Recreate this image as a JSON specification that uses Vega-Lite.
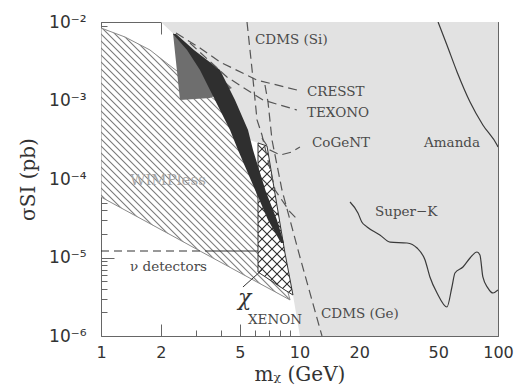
{
  "$schema": "https://vega.github.io/schema/vega-lite/v6.json",
  "width": 397,
  "height": 314,
  "autosize": {"type": "none"},
  "padding": {"left": 101, "top": 22, "right": 18, "bottom": 51},
  "background": "white",
  "config": {"view": {"stroke": null}},
  "datasets": {
    "xenon": [{"m":2.005,"s":0.01},{"m":2.5,"s":5.9e-3},{"m":3.34,"s":3.09e-3},{"m":4.215,"s":1.576e-3},{"m":4.9,"s":7.57e-4},{"m":5.63,"s":3.14e-4},{"m":6.18,"s":2.88e-4},{"m":6.86,"s":2.63e-4},{"m":8.45,"s":1.14e-5},{"m":9.27,"s":3.33e-6},{"m":10.05,"s":1e-6},{"m":100,"s":1e-6}],
    "wimpless": [{"m":1,"up":8.39e-3,"lo":5.9e-5},{"m":1.321,"up":6.44e-3,"lo":4.02e-5},{"m":1.765,"up":4.4e-3,"lo":2.7e-5},{"m":2.305,"up":2.59e-3,"lo":1.87e-5},{"m":3.152,"up":1.44e-3,"lo":1.21e-5},{"m":4.215,"up":8.02e-4,"lo":8.12e-6},{"m":4.9,"up":4.21e-4,"lo":6.59e-6},{"m":6.18,"up":5.9e-5,"lo":4.79e-6},{"m":7.53,"up":1.44e-5,"lo":3.66e-6},{"m":8.96,"up":2.88e-6,"lo":2.88e-6}],
    "box": [{"m":2.305,"up":7.24e-3,"lo":7.24e-3},{"m":2.5,"up":5.98e-3,"lo":1.014e-3},{"m":3.54,"up":2.64e-3,"lo":1.076e-3},{"m":4.57,"up":1.44e-3,"lo":1.44e-3}],
    "band": [{"s":1.53e-5,"m1":8.07,"m2":8.35},{"s":3.01e-5,"m1":6.94,"m2":7.7},{"s":6.82e-5,"m1":6.04,"m2":6.78},{"s":2.34e-4,"m1":4.9,"m2":5.833},{"s":4.21e-4,"m1":4.467,"m2":5.503},{"s":1.014e-3,"m1":3.752,"m2":4.732},{"s":2.45e-3,"m1":3.152,"m2":3.977},{"s":4.4e-3,"m1":2.713,"m2":2.941},{"s":7.03e-3,"m1":2.305,"m2":2.387}],
    "cross": [{"m":6.18,"up":2.88e-4,"lo":6.53e-6},{"m":6.86,"up":2.63e-4,"lo":5.48e-6},{"m":8.45,"up":1.14e-5,"lo":3.85e-6},{"m":9.27,"up":3.33e-6,"lo":3.33e-6}],
    "dashed": [
      {"g":"CRESST","m":2.387,"s":7.24e-3},{"g":"CRESST","m":3.152,"s":4.67e-3},{"g":"CRESST","m":3.977,"s":3.09e-3},{"g":"CRESST","m":6.11,"s":1.82e-3},{"g":"CRESST","m":9.71,"s":1.36e-3},
      {"g":"TEXONO","m":2.806,"s":5.4e-3},{"g":"TEXONO","m":4.31,"s":1.99e-3},{"g":"TEXONO","m":6.55,"s":1.014e-3},{"g":"TEXONO","m":9.71,"s":7.57e-4},
      {"g":"CDMSSi","m":5.44,"s":1e-2},{"g":"CDMSSi","m":5.77,"s":2.45e-3},{"g":"CDMSSi","m":6.11,"s":5.65e-4},{"g":"CDMSSi","m":6.47,"s":3.64e-4},{"g":"CDMSSi","m":7.53,"s":7.24e-5},{"g":"CDMSSi","m":8.96,"s":3.8e-5},{"g":"CDMSSi","m":9.83,"s":3.01e-5},
      {"g":"CDMSGe","m":6.7,"s":1.576e-3},{"g":"CDMSGe","m":6.94,"s":9.57e-4},{"g":"CDMSGe","m":7.27,"s":3.14e-4},{"g":"CDMSGe","m":8.16,"s":7.24e-5},{"g":"CDMSGe","m":10.05,"s":1.014e-5},{"g":"CDMSGe","m":12.98,"s":1e-6},
      {"g":"CoGeNT","m":6.47,"s":3.33e-4},{"g":"CoGeNT","m":7.1,"s":2.34e-4},{"g":"CoGeNT","m":7.98,"s":2.02e-4},{"g":"CoGeNT","m":9.17,"s":2.21e-4},{"g":"CoGeNT","m":10.05,"s":2.56e-4}
    ],
    "solid": [
      {"g":"Amanda","m":49.9,"s":1e-2},{"g":"Amanda","m":55.3,"s":5.09e-3},{"g":"Amanda","m":62.2,"s":2.31e-3},{"g":"Amanda","m":72.3,"s":9.57e-4},{"g":"Amanda","m":83.9,"s":4.88e-4},{"g":"Amanda","m":98.9,"s":2.71e-4},{"g":"Amanda","m":100,"s":2.56e-4},
      {"g":"SuperK","m":17.97,"s":5.09e-5},{"g":"SuperK","m":19.7,"s":3.69e-5},{"g":"SuperK","m":20.6,"s":2.83e-5},{"g":"SuperK","m":21.9,"s":2.45e-5},{"g":"SuperK","m":25.4,"s":1.94e-5},{"g":"SuperK","m":28.6,"s":1.57e-5},{"g":"SuperK","m":34.8,"s":1.53e-5},{"g":"SuperK","m":39.1,"s":1.32e-5},{"g":"SuperK","m":42.9,"s":9.29e-6},{"g":"SuperK","m":45.4,"s":5.65e-6},{"g":"SuperK","m":49.3,"s":3.53e-6},{"g":"SuperK","m":55.3,"s":2.34e-6},{"g":"SuperK","m":58.6,"s":4.21e-6},{"g":"SuperK","m":60.7,"s":6.35e-6},{"g":"SuperK","m":66.6,"s":7.57e-6},{"g":"SuperK","m":72.3,"s":9.86e-6},{"g":"SuperK","m":78.4,"s":1.175e-5},{"g":"SuperK","m":81.1,"s":1.077e-5},{"g":"SuperK","m":83.9,"s":5.65e-6},{"g":"SuperK","m":89.0,"s":4.08e-6},{"g":"SuperK","m":94.4,"s":3.53e-6},{"g":"SuperK","m":100,"s":3.85e-6}
    ],
    "labels": [
      {"t":"CDMS (Si)","m":5.97,"s":5.9e-3},
      {"t":"CRESST","m":10.91,"s":1.28e-3},
      {"t":"TEXONO","m":10.91,"s":6.93e-4},
      {"t":"CoGeNT","m":11.56,"s":2.88e-4},
      {"t":"Amanda","m":42.4,"s":2.88e-4},
      {"t":"Super−K","m":24.0,"s":3.8e-5},
      {"t":"CDMS (Ge)","m":12.83,"s":1.905e-6},
      {"t":"XENON","m":5.5,"s":1.6e-6},
      {"t":"ν detectors","m":1.4,"s":7.57e-6}
    ],
    "host": [{"m":1,"s":0.01}]
  },
  "resolve": {"axis": {"x": "independent", "y": "independent"}},
  "layer": [
    {
      "data": {"name": "xenon"},
      "mark": {"type": "area", "fill": "#e2e2e2", "clip": true},
      "encoding": {
        "x": {"field": "m", "type": "quantitative", "scale": {"type": "log", "domain": [1, 100], "nice": false}, "axis": null},
        "y": {"field": "s", "type": "quantitative", "scale": {"type": "log", "domain": [1e-6, 1e-2], "nice": false}, "axis": null},
        "y2": {"datum": 0.01}
      }
    },
    {
      "data": {"name": "wimpless"},
      "mark": {"type": "area", "clip": true, "stroke": "#8a8a8a", "strokeWidth": 1,
        "fill": {"gradient": "linear", "x1": 0, "y1": 1, "x2": 0.603, "y2": 0.132, "stops": [
          {"offset":0,"color":"#7a7a7a"},{"offset":0.004,"color":"#ffffff"},{"offset":0.016,"color":"#ffffff"},
          {"offset":0.02,"color":"#7a7a7a"},{"offset":0.024,"color":"#ffffff"},{"offset":0.036,"color":"#ffffff"},
          {"offset":0.04,"color":"#7a7a7a"},{"offset":0.044,"color":"#ffffff"},{"offset":0.056,"color":"#ffffff"},
          {"offset":0.06,"color":"#7a7a7a"},{"offset":0.064,"color":"#ffffff"},{"offset":0.076,"color":"#ffffff"},
          {"offset":0.08,"color":"#7a7a7a"},{"offset":0.084,"color":"#ffffff"},{"offset":0.096,"color":"#ffffff"},
          {"offset":0.1,"color":"#7a7a7a"},{"offset":0.104,"color":"#ffffff"},{"offset":0.116,"color":"#ffffff"},
          {"offset":0.12,"color":"#7a7a7a"},{"offset":0.124,"color":"#ffffff"},{"offset":0.136,"color":"#ffffff"},
          {"offset":0.14,"color":"#7a7a7a"},{"offset":0.144,"color":"#ffffff"},{"offset":0.156,"color":"#ffffff"},
          {"offset":0.16,"color":"#7a7a7a"},{"offset":0.164,"color":"#ffffff"},{"offset":0.176,"color":"#ffffff"},
          {"offset":0.18,"color":"#7a7a7a"},{"offset":0.184,"color":"#ffffff"},{"offset":0.196,"color":"#ffffff"},
          {"offset":0.2,"color":"#7a7a7a"},{"offset":0.204,"color":"#ffffff"},{"offset":0.216,"color":"#ffffff"},
          {"offset":0.22,"color":"#7a7a7a"},{"offset":0.224,"color":"#ffffff"},{"offset":0.236,"color":"#ffffff"},
          {"offset":0.24,"color":"#7a7a7a"},{"offset":0.244,"color":"#ffffff"},{"offset":0.256,"color":"#ffffff"},
          {"offset":0.26,"color":"#7a7a7a"},{"offset":0.264,"color":"#ffffff"},{"offset":0.276,"color":"#ffffff"},
          {"offset":0.28,"color":"#7a7a7a"},{"offset":0.284,"color":"#ffffff"},{"offset":0.296,"color":"#ffffff"},
          {"offset":0.3,"color":"#7a7a7a"},{"offset":0.304,"color":"#ffffff"},{"offset":0.316,"color":"#ffffff"},
          {"offset":0.32,"color":"#7a7a7a"},{"offset":0.324,"color":"#ffffff"},{"offset":0.336,"color":"#ffffff"},
          {"offset":0.34,"color":"#7a7a7a"},{"offset":0.344,"color":"#ffffff"},{"offset":0.356,"color":"#ffffff"},
          {"offset":0.36,"color":"#7a7a7a"},{"offset":0.364,"color":"#ffffff"},{"offset":0.376,"color":"#ffffff"},
          {"offset":0.38,"color":"#7a7a7a"},{"offset":0.384,"color":"#ffffff"},{"offset":0.396,"color":"#ffffff"},
          {"offset":0.4,"color":"#7a7a7a"},{"offset":0.404,"color":"#ffffff"},{"offset":0.416,"color":"#ffffff"},
          {"offset":0.42,"color":"#7a7a7a"},{"offset":0.424,"color":"#ffffff"},{"offset":0.436,"color":"#ffffff"},
          {"offset":0.44,"color":"#7a7a7a"},{"offset":0.444,"color":"#ffffff"},{"offset":0.456,"color":"#ffffff"},
          {"offset":0.46,"color":"#7a7a7a"},{"offset":0.464,"color":"#ffffff"},{"offset":0.476,"color":"#ffffff"},
          {"offset":0.48,"color":"#7a7a7a"},{"offset":0.484,"color":"#ffffff"},{"offset":0.496,"color":"#ffffff"},
          {"offset":0.5,"color":"#7a7a7a"},{"offset":0.504,"color":"#ffffff"},{"offset":0.516,"color":"#ffffff"},
          {"offset":0.52,"color":"#7a7a7a"},{"offset":0.524,"color":"#ffffff"},{"offset":0.536,"color":"#ffffff"},
          {"offset":0.54,"color":"#7a7a7a"},{"offset":0.544,"color":"#ffffff"},{"offset":0.556,"color":"#ffffff"},
          {"offset":0.56,"color":"#7a7a7a"},{"offset":0.564,"color":"#ffffff"},{"offset":0.576,"color":"#ffffff"},
          {"offset":0.58,"color":"#7a7a7a"},{"offset":0.584,"color":"#ffffff"},{"offset":0.596,"color":"#ffffff"},
          {"offset":0.6,"color":"#7a7a7a"},{"offset":0.604,"color":"#ffffff"},{"offset":0.616,"color":"#ffffff"},
          {"offset":0.62,"color":"#7a7a7a"},{"offset":0.624,"color":"#ffffff"},{"offset":0.636,"color":"#ffffff"},
          {"offset":0.64,"color":"#7a7a7a"},{"offset":0.644,"color":"#ffffff"},{"offset":0.656,"color":"#ffffff"},
          {"offset":0.66,"color":"#7a7a7a"},{"offset":0.664,"color":"#ffffff"},{"offset":0.676,"color":"#ffffff"},
          {"offset":0.68,"color":"#7a7a7a"},{"offset":0.684,"color":"#ffffff"},{"offset":0.696,"color":"#ffffff"},
          {"offset":0.7,"color":"#7a7a7a"},{"offset":0.704,"color":"#ffffff"},{"offset":0.716,"color":"#ffffff"},
          {"offset":0.72,"color":"#7a7a7a"},{"offset":0.724,"color":"#ffffff"},{"offset":0.736,"color":"#ffffff"},
          {"offset":0.74,"color":"#7a7a7a"},{"offset":0.744,"color":"#ffffff"},{"offset":0.756,"color":"#ffffff"},
          {"offset":0.76,"color":"#7a7a7a"},{"offset":0.764,"color":"#ffffff"},{"offset":0.776,"color":"#ffffff"},
          {"offset":0.78,"color":"#7a7a7a"},{"offset":0.784,"color":"#ffffff"},{"offset":0.796,"color":"#ffffff"},
          {"offset":0.8,"color":"#7a7a7a"},{"offset":0.804,"color":"#ffffff"},{"offset":0.816,"color":"#ffffff"},
          {"offset":0.82,"color":"#7a7a7a"},{"offset":0.824,"color":"#ffffff"},{"offset":0.836,"color":"#ffffff"},
          {"offset":0.84,"color":"#7a7a7a"},{"offset":0.844,"color":"#ffffff"},{"offset":0.856,"color":"#ffffff"},
          {"offset":0.86,"color":"#7a7a7a"},{"offset":0.864,"color":"#ffffff"},{"offset":0.876,"color":"#ffffff"},
          {"offset":0.88,"color":"#7a7a7a"},{"offset":0.884,"color":"#ffffff"},{"offset":0.896,"color":"#ffffff"},
          {"offset":0.9,"color":"#7a7a7a"},{"offset":0.904,"color":"#ffffff"},{"offset":0.916,"color":"#ffffff"},
          {"offset":0.92,"color":"#7a7a7a"},{"offset":0.924,"color":"#ffffff"},{"offset":0.936,"color":"#ffffff"},
          {"offset":0.94,"color":"#7a7a7a"},{"offset":0.944,"color":"#ffffff"},{"offset":0.956,"color":"#ffffff"},
          {"offset":0.96,"color":"#7a7a7a"},{"offset":0.964,"color":"#ffffff"},{"offset":0.976,"color":"#ffffff"},
          {"offset":0.98,"color":"#7a7a7a"},{"offset":0.984,"color":"#ffffff"},{"offset":1,"color":"#ffffff"}
        ]}},
      "encoding": {
        "x": {"field": "m", "type": "quantitative", "scale": {"type": "log", "domain": [1, 100], "nice": false}, "axis": null},
        "y": {"field": "up", "type": "quantitative", "scale": {"type": "log", "domain": [1e-6, 1e-2], "nice": false}, "axis": null},
        "y2": {"field": "lo"}
      }
    },
    {
      "data": {"name": "cross"},
      "mark": {"type": "area", "clip": true,
        "fill": {"gradient": "linear", "x1": 0, "y1": 1, "x2": 0.288, "y2": -0.25, "stops": [
          {"offset":0,"color":"#333333"},{"offset":0.007,"color":"#ffffff"},{"offset":0.043,"color":"#ffffff"},
          {"offset":0.05,"color":"#333333"},{"offset":0.057,"color":"#ffffff"},{"offset":0.093,"color":"#ffffff"},
          {"offset":0.1,"color":"#333333"},{"offset":0.107,"color":"#ffffff"},{"offset":0.143,"color":"#ffffff"},
          {"offset":0.15,"color":"#333333"},{"offset":0.157,"color":"#ffffff"},{"offset":0.193,"color":"#ffffff"},
          {"offset":0.2,"color":"#333333"},{"offset":0.207,"color":"#ffffff"},{"offset":0.243,"color":"#ffffff"},
          {"offset":0.25,"color":"#333333"},{"offset":0.257,"color":"#ffffff"},{"offset":0.293,"color":"#ffffff"},
          {"offset":0.3,"color":"#333333"},{"offset":0.307,"color":"#ffffff"},{"offset":0.343,"color":"#ffffff"},
          {"offset":0.35,"color":"#333333"},{"offset":0.357,"color":"#ffffff"},{"offset":0.393,"color":"#ffffff"},
          {"offset":0.4,"color":"#333333"},{"offset":0.407,"color":"#ffffff"},{"offset":0.443,"color":"#ffffff"},
          {"offset":0.45,"color":"#333333"},{"offset":0.457,"color":"#ffffff"},{"offset":0.493,"color":"#ffffff"},
          {"offset":0.5,"color":"#333333"},{"offset":0.507,"color":"#ffffff"},{"offset":0.543,"color":"#ffffff"},
          {"offset":0.55,"color":"#333333"},{"offset":0.557,"color":"#ffffff"},{"offset":0.593,"color":"#ffffff"},
          {"offset":0.6,"color":"#333333"},{"offset":0.607,"color":"#ffffff"},{"offset":0.643,"color":"#ffffff"},
          {"offset":0.65,"color":"#333333"},{"offset":0.657,"color":"#ffffff"},{"offset":0.693,"color":"#ffffff"},
          {"offset":0.7,"color":"#333333"},{"offset":0.707,"color":"#ffffff"},{"offset":0.743,"color":"#ffffff"},
          {"offset":0.75,"color":"#333333"},{"offset":0.757,"color":"#ffffff"},{"offset":0.793,"color":"#ffffff"},
          {"offset":0.8,"color":"#333333"},{"offset":0.807,"color":"#ffffff"},{"offset":0.843,"color":"#ffffff"},
          {"offset":0.85,"color":"#333333"},{"offset":0.857,"color":"#ffffff"},{"offset":0.893,"color":"#ffffff"},
          {"offset":0.9,"color":"#333333"},{"offset":0.907,"color":"#ffffff"},{"offset":0.943,"color":"#ffffff"},
          {"offset":0.95,"color":"#333333"},{"offset":0.957,"color":"#ffffff"},{"offset":1,"color":"#ffffff"}
        ]}},
      "encoding": {
        "x": {"field": "m", "type": "quantitative", "scale": {"type": "log", "domain": [1, 100], "nice": false}, "axis": null},
        "y": {"field": "up", "type": "quantitative", "scale": {"type": "log", "domain": [1e-6, 1e-2], "nice": false}, "axis": null},
        "y2": {"field": "lo"}
      }
    },
    {
      "data": {"name": "cross"},
      "mark": {"type": "area", "clip": true, "stroke": "#333333", "strokeWidth": 1,
        "fill": {"gradient": "linear", "x1": 0, "y1": 0, "x2": 0.288, "y2": 1.25, "stops": [
          {"offset":0,"color":"rgba(51,51,51,1)"},{"offset":0.007,"color":"rgba(51,51,51,0)"},{"offset":0.043,"color":"rgba(51,51,51,0)"},
          {"offset":0.05,"color":"rgba(51,51,51,1)"},{"offset":0.057,"color":"rgba(51,51,51,0)"},{"offset":0.093,"color":"rgba(51,51,51,0)"},
          {"offset":0.1,"color":"rgba(51,51,51,1)"},{"offset":0.107,"color":"rgba(51,51,51,0)"},{"offset":0.143,"color":"rgba(51,51,51,0)"},
          {"offset":0.15,"color":"rgba(51,51,51,1)"},{"offset":0.157,"color":"rgba(51,51,51,0)"},{"offset":0.193,"color":"rgba(51,51,51,0)"},
          {"offset":0.2,"color":"rgba(51,51,51,1)"},{"offset":0.207,"color":"rgba(51,51,51,0)"},{"offset":0.243,"color":"rgba(51,51,51,0)"},
          {"offset":0.25,"color":"rgba(51,51,51,1)"},{"offset":0.257,"color":"rgba(51,51,51,0)"},{"offset":0.293,"color":"rgba(51,51,51,0)"},
          {"offset":0.3,"color":"rgba(51,51,51,1)"},{"offset":0.307,"color":"rgba(51,51,51,0)"},{"offset":0.343,"color":"rgba(51,51,51,0)"},
          {"offset":0.35,"color":"rgba(51,51,51,1)"},{"offset":0.357,"color":"rgba(51,51,51,0)"},{"offset":0.393,"color":"rgba(51,51,51,0)"},
          {"offset":0.4,"color":"rgba(51,51,51,1)"},{"offset":0.407,"color":"rgba(51,51,51,0)"},{"offset":0.443,"color":"rgba(51,51,51,0)"},
          {"offset":0.45,"color":"rgba(51,51,51,1)"},{"offset":0.457,"color":"rgba(51,51,51,0)"},{"offset":0.493,"color":"rgba(51,51,51,0)"},
          {"offset":0.5,"color":"rgba(51,51,51,1)"},{"offset":0.507,"color":"rgba(51,51,51,0)"},{"offset":0.543,"color":"rgba(51,51,51,0)"},
          {"offset":0.55,"color":"rgba(51,51,51,1)"},{"offset":0.557,"color":"rgba(51,51,51,0)"},{"offset":0.593,"color":"rgba(51,51,51,0)"},
          {"offset":0.6,"color":"rgba(51,51,51,1)"},{"offset":0.607,"color":"rgba(51,51,51,0)"},{"offset":0.643,"color":"rgba(51,51,51,0)"},
          {"offset":0.65,"color":"rgba(51,51,51,1)"},{"offset":0.657,"color":"rgba(51,51,51,0)"},{"offset":0.693,"color":"rgba(51,51,51,0)"},
          {"offset":0.7,"color":"rgba(51,51,51,1)"},{"offset":0.707,"color":"rgba(51,51,51,0)"},{"offset":0.743,"color":"rgba(51,51,51,0)"},
          {"offset":0.75,"color":"rgba(51,51,51,1)"},{"offset":0.757,"color":"rgba(51,51,51,0)"},{"offset":0.793,"color":"rgba(51,51,51,0)"},
          {"offset":0.8,"color":"rgba(51,51,51,1)"},{"offset":0.807,"color":"rgba(51,51,51,0)"},{"offset":0.843,"color":"rgba(51,51,51,0)"},
          {"offset":0.85,"color":"rgba(51,51,51,1)"},{"offset":0.857,"color":"rgba(51,51,51,0)"},{"offset":0.893,"color":"rgba(51,51,51,0)"},
          {"offset":0.9,"color":"rgba(51,51,51,1)"},{"offset":0.907,"color":"rgba(51,51,51,0)"},{"offset":0.943,"color":"rgba(51,51,51,0)"},
          {"offset":0.95,"color":"rgba(51,51,51,1)"},{"offset":0.957,"color":"rgba(51,51,51,0)"},{"offset":1,"color":"rgba(51,51,51,0)"}
        ]}},
      "encoding": {
        "x": {"field": "m", "type": "quantitative", "scale": {"type": "log", "domain": [1, 100], "nice": false}, "axis": null},
        "y": {"field": "up", "type": "quantitative", "scale": {"type": "log", "domain": [1e-6, 1e-2], "nice": false}, "axis": null},
        "y2": {"field": "lo"}
      }
    },
    {
      "data": {"name": "box"},
      "mark": {"type": "area", "fill": "#6e6e6e", "clip": true},
      "encoding": {
        "x": {"field": "m", "type": "quantitative", "scale": {"type": "log", "domain": [1, 100], "nice": false}, "axis": null},
        "y": {"field": "up", "type": "quantitative", "scale": {"type": "log", "domain": [1e-6, 1e-2], "nice": false}, "axis": null},
        "y2": {"field": "lo"}
      }
    },
    {
      "data": {"name": "band"},
      "mark": {"type": "area", "orient": "horizontal", "fill": "#2f2f2f", "clip": true},
      "encoding": {
        "y": {"field": "s", "type": "quantitative", "scale": {"type": "log", "domain": [1e-6, 1e-2], "nice": false}, "axis": null},
        "x": {"field": "m1", "type": "quantitative", "scale": {"type": "log", "domain": [1, 100], "nice": false}, "axis": null},
        "x2": {"field": "m2"}
      }
    },
    {
      "data": {"name": "dashed"},
      "mark": {"type": "line", "stroke": "#555555", "strokeWidth": 1.2, "strokeDash": [9, 5], "clip": true},
      "encoding": {
        "x": {"field": "m", "type": "quantitative", "scale": {"type": "log", "domain": [1, 100], "nice": false}, "axis": null},
        "y": {"field": "s", "type": "quantitative", "scale": {"type": "log", "domain": [1e-6, 1e-2], "nice": false}, "axis": null},
        "detail": {"field": "g"}
      }
    },
    {
      "data": {"name": "solid"},
      "mark": {"type": "line", "stroke": "#3a3a3a", "strokeWidth": 1.2, "interpolate": "monotone", "clip": true},
      "encoding": {
        "x": {"field": "m", "type": "quantitative", "scale": {"type": "log", "domain": [1, 100], "nice": false}, "axis": null},
        "y": {"field": "s", "type": "quantitative", "scale": {"type": "log", "domain": [1e-6, 1e-2], "nice": false}, "axis": null},
        "detail": {"field": "g"}
      }
    },
    {
      "data": {"values": [{"m1": 1, "m2": 3.34, "s": 1.21e-5}]},
      "mark": {"type": "rule", "stroke": "#333333", "strokeWidth": 1, "strokeDash": [8, 5]},
      "encoding": {
        "x": {"field": "m1", "type": "quantitative", "scale": {"type": "log", "domain": [1, 100], "nice": false}, "axis": null},
        "x2": {"field": "m2"},
        "y": {"field": "s", "type": "quantitative", "scale": {"type": "log", "domain": [1e-6, 1e-2], "nice": false}, "axis": null}
      }
    },
    {
      "data": {"values": [{"m1": 3.34, "m2": 6.18, "s": 1.21e-5}]},
      "mark": {"type": "rule", "stroke": "#333333", "strokeWidth": 1},
      "encoding": {
        "x": {"field": "m1", "type": "quantitative", "scale": {"type": "log", "domain": [1, 100], "nice": false}, "axis": null},
        "x2": {"field": "m2"},
        "y": {"field": "s", "type": "quantitative", "scale": {"type": "log", "domain": [1e-6, 1e-2], "nice": false}, "axis": null}
      }
    },
    {
      "data": {"values": [{"m1": 5.19, "s1": 4.21e-6, "m2": 6.47, "s2": 6.93e-6}]},
      "mark": {"type": "rule", "stroke": "#333333", "strokeWidth": 1},
      "encoding": {
        "x": {"field": "m1", "type": "quantitative", "scale": {"type": "log", "domain": [1, 100], "nice": false}, "axis": null},
        "x2": {"field": "m2"},
        "y": {"field": "s1", "type": "quantitative", "scale": {"type": "log", "domain": [1e-6, 1e-2], "nice": false}, "axis": null},
        "y2": {"field": "s2"}
      }
    },
    {
      "data": {"name": "labels"},
      "mark": {"type": "text", "font": "DejaVu Serif", "fontSize": 13.5, "fill": "#4a4a4a", "align": "left", "baseline": "middle"},
      "encoding": {
        "x": {"field": "m", "type": "quantitative", "scale": {"type": "log", "domain": [1, 100], "nice": false}, "axis": null},
        "y": {"field": "s", "type": "quantitative", "scale": {"type": "log", "domain": [1e-6, 1e-2], "nice": false}, "axis": null},
        "text": {"field": "t"}
      }
    },
    {
      "data": {"values": [{"t": "WIMPless", "m": 1.4, "s": 9.7e-5}]},
      "mark": {"type": "text", "font": "DejaVu Serif", "fontSize": 15, "fill": "#a5a5a5", "align": "left", "baseline": "middle"},
      "encoding": {
        "x": {"field": "m", "type": "quantitative", "scale": {"type": "log", "domain": [1, 100], "nice": false}, "axis": null},
        "y": {"field": "s", "type": "quantitative", "scale": {"type": "log", "domain": [1e-6, 1e-2], "nice": false}, "axis": null},
        "text": {"field": "t"}
      }
    },
    {
      "data": {"values": [{"t": "χ", "m": 4.9, "s": 3.05e-6}]},
      "mark": {"type": "text", "font": "DejaVu Serif", "fontSize": 22, "fontStyle": "italic", "fill": "#333333", "align": "left", "baseline": "middle"},
      "encoding": {
        "x": {"field": "m", "type": "quantitative", "scale": {"type": "log", "domain": [1, 100], "nice": false}, "axis": null},
        "y": {"field": "s", "type": "quantitative", "scale": {"type": "log", "domain": [1e-6, 1e-2], "nice": false}, "axis": null},
        "text": {"field": "t"}
      }
    },
    {
      "data": {"name": "host"},
      "mark": {"type": "point", "opacity": 0},
      "encoding": {
        "x": {"field": "m", "type": "quantitative", "scale": {"type": "log", "domain": [1, 100], "nice": false},
          "axis": {"orient": "bottom", "values": [1, 2, 5, 10, 20, 50, 100], "format": "~g", "grid": false, "tickSize": -12, "labelPadding": 20, "labelFlush": false, "labelOverlap": false, "labelFont": "DejaVu Sans", "labelFontSize": 16, "labelColor": "#333333", "tickColor": "#666666", "domainColor": "#666666", "title": "mᵪ (GeV)", "titleFont": "DejaVu Serif", "titleFontSize": 20, "titleFontWeight": "normal", "titleColor": "#333333", "titlePadding": 4}},
        "y": {"field": "s", "type": "quantitative", "scale": {"type": "log", "domain": [1e-6, 1e-2], "nice": false},
          "axis": {"orient": "left", "values": [1e-6, 1e-5, 1e-4, 1e-3, 1e-2], "labelExpr": "'10' + (datum.value < 2e-6 ? '⁻⁶' : datum.value < 2e-5 ? '⁻⁵' : datum.value < 2e-4 ? '⁻⁴' : datum.value < 2e-3 ? '⁻³' : '⁻²')", "grid": false, "tickSize": -13, "labelPadding": 28, "labelFlush": false, "labelOverlap": false, "labelFont": "DejaVu Sans", "labelFontSize": 17, "labelColor": "#333333", "tickColor": "#666666", "domainColor": "#666666", "title": "σSI (pb)", "titleFont": "DejaVu Serif", "titleFontSize": 20, "titleFontWeight": "normal", "titleColor": "#333333", "titlePadding": 10}}
      }
    },
    {
      "data": {"name": "host"},
      "mark": {"type": "point", "opacity": 0},
      "encoding": {
        "x": {"field": "m", "type": "quantitative", "scale": {"type": "log", "domain": [1, 100], "nice": false},
          "axis": {"orient": "bottom", "values": [3, 4, 6, 7, 8, 9, 30, 40, 60, 70, 80, 90], "labels": false, "domain": false, "grid": false, "tickSize": -6, "tickColor": "#666666", "title": null}},
        "y": {"field": "s", "type": "quantitative", "scale": {"type": "log", "domain": [1e-6, 1e-2], "nice": false},
          "axis": {"orient": "left", "values": [2e-6, 3e-6, 4e-6, 5e-6, 6e-6, 7e-6, 8e-6, 9e-6, 2e-5, 3e-5, 4e-5, 5e-5, 6e-5, 7e-5, 8e-5, 9e-5, 2e-4, 3e-4, 4e-4, 5e-4, 6e-4, 7e-4, 8e-4, 9e-4, 2e-3, 3e-3, 4e-3, 5e-3, 6e-3, 7e-3, 8e-3, 9e-3], "labels": false, "domain": false, "grid": false, "tickSize": -6, "tickColor": "#666666", "title": null}}
      }
    },
    {
      "data": {"name": "host"},
      "mark": {"type": "point", "opacity": 0},
      "encoding": {
        "x": {"field": "m", "type": "quantitative", "scale": {"type": "log", "domain": [1, 100], "nice": false},
          "axis": {"orient": "top", "values": [1, 2, 5, 10, 20, 50, 100], "labels": false, "grid": false, "tickSize": -12, "tickColor": "#666666", "domainColor": "#666666", "title": null}},
        "y": {"field": "s", "type": "quantitative", "scale": {"type": "log", "domain": [1e-6, 1e-2], "nice": false},
          "axis": {"orient": "right", "values": [1e-6, 1e-5, 1e-4, 1e-3, 1e-2], "labels": false, "grid": false, "tickSize": -13, "tickColor": "#666666", "domainColor": "#666666", "title": null}}
      }
    },
    {
      "data": {"name": "host"},
      "mark": {"type": "point", "opacity": 0},
      "encoding": {
        "x": {"field": "m", "type": "quantitative", "scale": {"type": "log", "domain": [1, 100], "nice": false},
          "axis": {"orient": "top", "values": [3, 4, 6, 7, 8, 9, 30, 40, 60, 70, 80, 90], "labels": false, "domain": false, "grid": false, "tickSize": -6, "tickColor": "#666666", "title": null}},
        "y": {"field": "s", "type": "quantitative", "scale": {"type": "log", "domain": [1e-6, 1e-2], "nice": false},
          "axis": {"orient": "right", "values": [2e-6, 3e-6, 4e-6, 5e-6, 6e-6, 7e-6, 8e-6, 9e-6, 2e-5, 3e-5, 4e-5, 5e-5, 6e-5, 7e-5, 8e-5, 9e-5, 2e-4, 3e-4, 4e-4, 5e-4, 6e-4, 7e-4, 8e-4, 9e-4, 2e-3, 3e-3, 4e-3, 5e-3, 6e-3, 7e-3, 8e-3, 9e-3], "labels": false, "domain": false, "grid": false, "tickSize": -6, "tickColor": "#666666", "title": null}}
      }
    }
  ]
}
